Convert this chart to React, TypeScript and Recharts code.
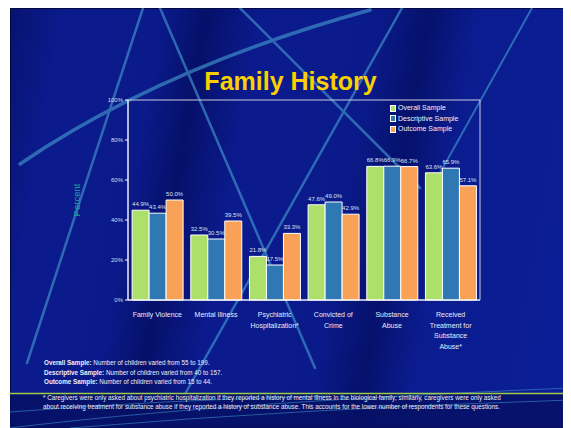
import React from 'react';
import { BarChart, Bar, XAxis, YAxis, LabelList, Legend, ReferenceArea } from 'recharts';

const categories = [
  'Family Violence',
  'Mental Illness',
  'Psychiatric Hospitalization*',
  'Convicted of Crime',
  'Substance Abuse',
  'Received Treatment for Substance Abuse*',
];
const categoryLines = [
  ['Family Violence'],
  ['Mental Illness'],
  ['Psychiatric', 'Hospitalization*'],
  ['Convicted of', 'Crime'],
  ['Substance', 'Abuse'],
  ['Received', 'Treatment for', 'Substance', 'Abuse*'],
];
const overall = [44.9, 32.5, 21.8, 47.6, 66.8, 63.6];
const descriptive = [43.4, 30.5, 17.5, 49.0, 66.9, 65.9];
const outcome = [50.0, 39.5, 33.3, 42.9, 66.7, 57.1];
const yTicks = [0, 20, 40, 60, 80, 100];

const seriesNames = ['Overall Sample', 'Descriptive Sample', 'Outcome Sample'];
const seriesColors = ['#ADE06A', '#2F78B3', '#F9A257'];

const data = categories.map((c, i) => ({
  cat: c,
  overall: overall[i],
  descriptive: descriptive[i],
  outcome: outcome[i],
}));

const FONT = 'Arial, "Liberation Sans", Helvetica, sans-serif';

const CategoryTick = (props: any) => {
  const { x, y, payload } = props;
  const idx = categories.indexOf(payload.value);
  const lines = categoryLines[idx] || [payload.value];
  return (
    <g>
      {lines.map((l, i) => (
        <text
          key={i}
          x={x}
          y={y + 9 + i * 10.5}
          textAnchor="middle"
          fontSize={7}
          fontFamily={FONT}
          fill="#E8ECF8"
        >
          {l}
        </text>
      ))}
    </g>
  );
};

const PercentLabel = (props: any) => {
  const { viewBox } = props;
  const cx = viewBox.x - 12;
  const cy = viewBox.y + viewBox.height / 2;
  return (
    <text
      x={cx}
      y={cy}
      transform={`rotate(-90 ${cx} ${cy})`}
      textAnchor="middle"
      dominantBaseline="central"
      fontSize={9.5}
      fontFamily={FONT}
      fill="#1FA39E"
    >
      Percent
    </text>
  );
};

const LegendContent = () => (
  <div style={{ fontFamily: FONT, fontSize: 7, color: '#F0F2FA', lineHeight: '10.5px' }}>
    {seriesNames.map((n, i) => (
      <div key={n} style={{ display: 'flex', alignItems: 'center', whiteSpace: 'nowrap' }}>
        <span
          style={{
            display: 'inline-block',
            width: 4,
            height: 5,
            background: seriesColors[i],
            border: '0.5px solid #ffffff',
            marginRight: 2,
          }}
        />
        {n}
      </div>
    ))}
  </div>
);

const fmt = (v: any) => `${Number(v).toFixed(1)}%`;

const lineColor = '#3E8DC6';

export default function App() {
  return (
    <div
      style={{
        width: 561,
        height: 420,
        marginLeft: 2,
        position: 'relative',
        overflow: 'hidden',
        fontFamily: FONT,
        boxShadow: 'inset 0 0 0 1px #020a40',
        background:
          'linear-gradient(100deg, #071270 0%, #0b1b8e 9%, #0a1a8a 24%, #06106a 31%, #0b1b8e 40%, #0a1a8a 58%, #06116c 66%, #0b1c90 74%, #0c1e96 100%)',
      }}
    >
      <svg width={561} height={420} style={{ position: 'absolute', left: 0, top: 0 }}>
        <g stroke={lineColor} fill="none" strokeLinecap="round" opacity={0.7}>
          <line x1={133} y1={0} x2={17} y2={355} strokeWidth={2.5} />
          <line x1={150} y1={0} x2={305} y2={360} strokeWidth={2.5} />
          <line x1={230} y1={0} x2={410} y2={180} strokeWidth={2.5} />
          <line x1={392} y1={0} x2={170} y2={395} strokeWidth={2.5} />
          <line x1={522} y1={0} x2={430} y2={165} strokeWidth={2} />
          <path d="M 10 156 Q 150 60 360 2" strokeWidth={3.5} />
        </g>
        <rect x={0} y={386} width={561} height={34} fill="#061064" opacity={0.85} />
        <g stroke={lineColor} fill="none" opacity={0.6} strokeWidth={1}>
          <path d="M 0 420 Q 200 395 560 380" />
          <path d="M 60 420 Q 300 400 561 392" />
          <path d="M 0 404 Q 150 392 320 388" />
        </g>
        <line x1={0} y1={385.5} x2={561} y2={385.5} stroke="#9CCB45" strokeWidth={1.5} />
      </svg>

      <div
        style={{
          position: 'absolute',
          left: 0,
          top: 59,
          width: 561,
          textAlign: 'center',
          fontSize: 25,
          fontWeight: 'bold',
          color: '#FBD000',
          lineHeight: '28px',
        }}
      >
        Family History
      </div>

      <div style={{ position: 'absolute', left: 0, top: 0 }}>
        <BarChart
          width={561}
          height={380}
          data={data}
          margin={{ top: 92, right: 91, left: 78, bottom: 43 }}
          barCategoryGap="7%"
          barGap={0}
        >
          <ReferenceArea y1={0} y2={100} fill="none" stroke="#C9CCE0" strokeWidth={1} ifOverflow="extendDomain" />
          <XAxis
            dataKey="cat"
            height={45}
            interval={0}
            tick={<CategoryTick />}
            tickLine={false}
            axisLine={{ stroke: '#FFFFFF', strokeWidth: 1 }}
          />
          <YAxis
            width={40}
            domain={[0, 100]}
            ticks={yTicks}
            tickFormatter={(v: number) => `${v}%`}
            tick={{ fontSize: 6, fill: '#D8DCEC', fontFamily: FONT }}
            tickSize={3}
            tickMargin={2}
            tickLine={{ stroke: '#FFFFFF' }}
            axisLine={{ stroke: '#FFFFFF', strokeWidth: 1 }}
            label={<PercentLabel />}
          />
          <Legend
            layout="horizontal"
            verticalAlign="middle"
            align="center"
            content={<LegendContent />}
            wrapperStyle={{ position: 'absolute', left: 380, top: 95, width: 90 }}
          />
          <Bar dataKey="overall" name={seriesNames[0]} fill={seriesColors[0]} stroke="#FFFFFF" strokeWidth={1} isAnimationActive={false}>
            <LabelList dataKey="overall" position="top" offset={4} formatter={fmt} fontSize={6} fill="#DCE0F0" fontFamily={FONT} />
          </Bar>
          <Bar dataKey="descriptive" name={seriesNames[1]} fill={seriesColors[1]} stroke="#FFFFFF" strokeWidth={1} isAnimationActive={false}>
            <LabelList dataKey="descriptive" position="top" offset={4} formatter={fmt} fontSize={6} fill="#DCE0F0" fontFamily={FONT} />
          </Bar>
          <Bar dataKey="outcome" name={seriesNames[2]} fill={seriesColors[2]} stroke="#FFFFFF" strokeWidth={1} isAnimationActive={false}>
            <LabelList dataKey="outcome" position="top" offset={4} formatter={fmt} fontSize={6} fill="#DCE0F0" fontFamily={FONT} />
          </Bar>
        </BarChart>
      </div>

      <div
        style={{
          position: 'absolute',
          left: 34,
          top: 350,
          fontSize: 6.3,
          lineHeight: '9.6px',
          color: '#EEF0F8',
          whiteSpace: 'nowrap',
        }}
      >
        <div><b>Overall Sample:</b> Number of children varied from 55 to 199.</div>
        <div><b>Descriptive Sample:</b> Number of children varied from 40 to 157.</div>
        <div><b>Outcome Sample:</b> Number of children varied from 15 to 44.</div>
      </div>

      <div
        style={{
          position: 'absolute',
          left: 33,
          top: 385,
          fontSize: 6.3,
          lineHeight: '9px',
          color: '#EEF0F8',
          whiteSpace: 'nowrap',
        }}
      >
        <div>* Caregivers were only asked about psychiatric hospitalization if they reported a history of mental illness in the biological family; similarly, caregivers were only asked</div>
        <div>about receiving treatment for substance abuse if they reported a history of substance abuse. This accounts for the lower number of respondents for these questions.</div>
      </div>
    </div>
  );
}
